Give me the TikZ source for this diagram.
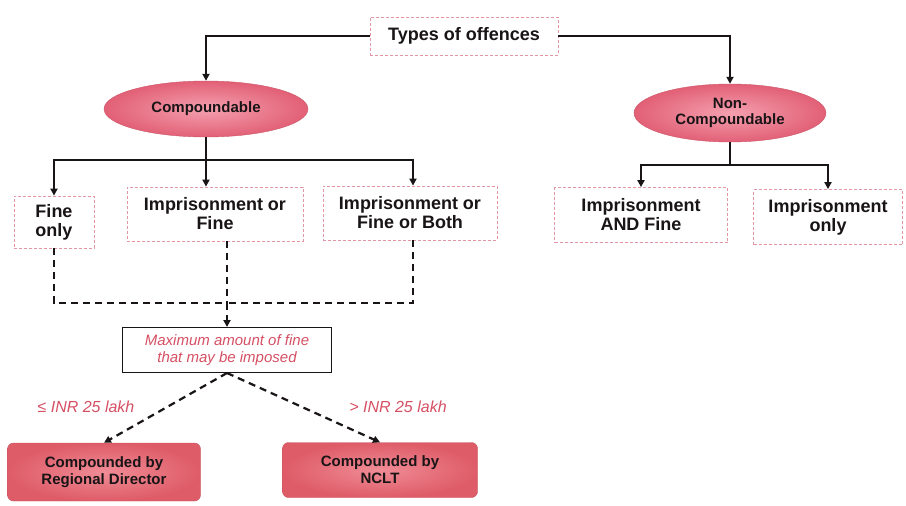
\documentclass[tikz,border=0pt]{standalone}
\usepackage{fontspec}
\setmainfont{Liberation Sans}
\usetikzlibrary{shapes.geometric,arrows.meta}
\definecolor{pinkedge}{RGB}{226,150,165}
\definecolor{ellout}{RGB}{226,96,118}
\definecolor{ellin}{RGB}{244,160,175}
\definecolor{redout}{RGB}{222,92,104}
\definecolor{redin}{RGB}{240,140,150}
\definecolor{labred}{RGB}{214,80,100}
\definecolor{ink}{RGB}{25,20,22}
\tikzset{
  lbox/.style={draw=pinkedge, densely dashed, line width=0.8pt, fill=white,
    inner sep=0pt, align=center, font=\fontsize{18}{19}\selectfont\bfseries, text=ink},
  oval/.style={ellipse, inner sep=0pt, inner color=ellin, outer color=ellout,
    draw=ellout!90!black, line width=0.4pt, align=center,
    font=\fontsize{15}{16}\selectfont\bfseries, text=ink},
  result/.style={rounded corners=6pt, inner sep=0pt, inner color=redin, outer color=redout,
    draw=redout!90!black, line width=0.4pt, align=center,
    font=\fontsize{15}{17}\selectfont\bfseries, text=ink},
  qbox/.style={draw=ink, line width=1pt, fill=white, inner sep=0pt, align=center,
    font=\fontsize{15}{17}\selectfont\itshape, text=labred},
  cond/.style={font=\fontsize{16}{18}\selectfont\itshape, text=labred},
  link/.style={draw=ink, line width=2.6pt},
  arr/.style={-{Triangle[length=7pt,width=7pt]}},
  dlink/.style={draw=ink, line width=2.2pt, dash pattern=on 7pt off 5pt}
}
\begin{document}
\begin{tikzpicture}[x=1pt,y=-1pt]
\useasboundingbox (0,0) rectangle (906,506);
\fill[white] (0,0) rectangle (906,506);

% top of the tree
\node[lbox, minimum width=188pt, minimum height=38pt] (title) at (464,36) {Types of offences};
\node[oval, minimum width=204pt, minimum height=56pt] (comp) at (206,109) {Compoundable};
\node[oval, minimum width=192pt, minimum height=58pt] (noncomp) at (730,113) {Non-\\Compoundable};

\draw[link,arr] (title.west) -| (comp.north);
\draw[link,arr] (title.east) -| (noncomp.north);

% compoundable kinds
\node[lbox, minimum width=80pt, minimum height=52pt] (fine) at (54,222) {Fine\\only};
\node[lbox, minimum width=176pt, minimum height=54pt] (impfine) at (215,214) {Imprisonment or\\Fine};
\node[lbox, minimum width=174pt, minimum height=54pt] (impboth) at (410,213) {Imprisonment or\\Fine or Both};

\coordinate (cbus) at (206,160);
\draw[link] (comp.south) -- (cbus);
\draw[link,arr] (cbus) -| (fine.north);
\draw[link,arr] (cbus) -| ([xshift=3pt]impboth.north);
\draw[link,arr] (cbus) -- (cbus |- impfine.north);

% non-compoundable kinds
\node[lbox, minimum width=173pt, minimum height=55pt] (impand) at (641,215) {Imprisonment\\AND Fine};
\node[lbox, minimum width=149pt, minimum height=55pt] (imponly) at (828,217) {Imprisonment\\only};

\coordinate (nbus) at (730,165);
\draw[link] (noncomp.south) -- (nbus);
\draw[link,arr] (nbus) -| (impand.north);
\draw[link,arr] (nbus) -| (imponly.north);

% fine threshold
\node[qbox, minimum width=209pt, minimum height=45pt] (maxfine) at (227,350) {Maximum amount of fine\\that may be imposed};

\coordinate (dbus) at (227,303);
\draw[dlink] (fine.south) |- (dbus);
\draw[dlink] ([xshift=3pt]impboth.south) |- (dbus);
\draw[dlink] ([xshift=12pt]impfine.south) -- (dbus);
\draw[dlink,arr] (dbus) -- (maxfine.north);

% who compounds
\node[result, minimum width=193pt, minimum height=58pt] (rd) at (104,472) {Compounded by\\Regional Director};
\node[result, minimum width=195pt, minimum height=55pt] (nclt) at (380,470) {Compounded by\\NCLT};

\draw[dlink,arr] (maxfine.south) -- (rd.north);
\draw[dlink,arr] (maxfine.south) -- (nclt.north);

\node[cond] (le) at (86,407) {≤ INR 25 lakh};
\node[cond] (gt) at (398,407) {> INR 25 lakh};
\end{tikzpicture}
\end{document}
